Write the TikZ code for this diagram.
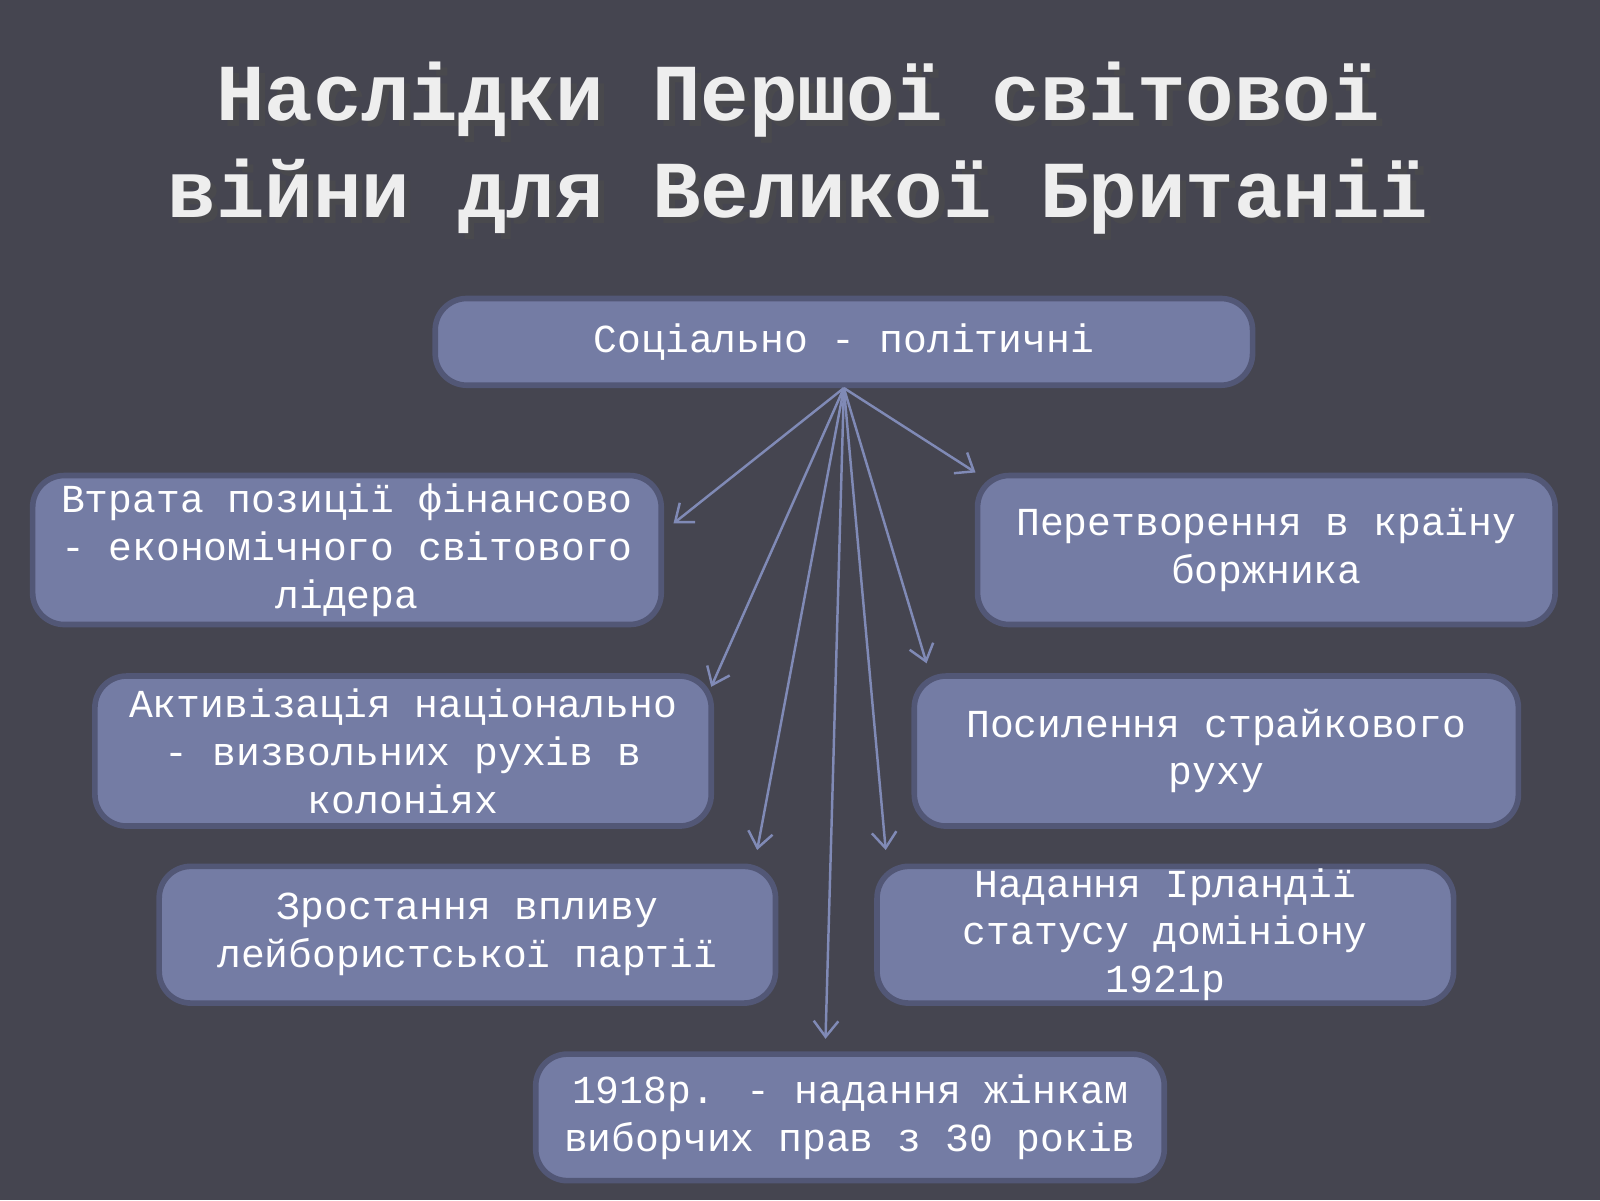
\documentclass[tikz,border=0pt]{standalone}
\usepackage{fontspec}
\setmainfont{Liberation Mono}
\usetikzlibrary{positioning,arrows.meta}
\definecolor{backG}{RGB}{69,69,80}
\definecolor{obj}{RGB}{116,124,164}
\definecolor{objLine}{RGB}{82,87,118}
\definecolor{arr}{RGB}{128,138,182}
\definecolor{titleC}{RGB}{238,238,238}

\begin{document}
\begin{tikzpicture}[
	x=0.010204cm, y=-0.010204cm,
	MyBox/.style={draw=objLine, line width=1.6pt, rounded corners=9pt, fill=obj,
		text=white, align=center, font=\fontsize{11.3}{13.6}\selectfont, inner sep=0pt},
	MyArrow/.style={draw=arr, line width=0.7pt, -{Straight Barb[length=4.5pt,width=7pt]}},
	]
	\fill[backG] (0,0) rectangle (1568,1176);
	\useasboundingbox (0,0) rectangle (1568,1176);
	% title
	\node[text=black!70, opacity=0.6, align=center, font=\fontsize{23}{27.5}\selectfont\bfseries]
		at (788,151) {Наслідки Першої світової\\війни для Великої Британії};
	\node[text=titleC, align=center, font=\fontsize{23}{27.5}\selectfont\bfseries] (title)
		at (782,145) {Наслідки Першої світової\\війни для Великої Британії};
	% boxes
	\node[MyBox, minimum width=801*0.010204cm, minimum height=85*0.010204cm] (top) at (827,335) {Соціально - політичні};
	\node[MyBox, minimum width=616*0.010204cm, minimum height=146*0.010204cm] (b1) at (340,539) {Втрата позиції фінансово\\- економічного світового\\лідера};
	\node[MyBox, minimum width=566*0.010204cm, minimum height=146*0.010204cm] (b2) at (1241,539) {Перетворення в країну\\боржника};
	\node[MyBox, minimum width=604*0.010204cm, minimum height=147*0.010204cm] (b3) at (395,736) {Активізація національно\\- визвольних рухів в\\колоніях};
	\node[MyBox, minimum width=592*0.010204cm, minimum height=147*0.010204cm] (b4) at (1192,736) {Посилення страйкового\\руху};
	\node[MyBox, minimum width=604*0.010204cm, minimum height=134*0.010204cm] (b5) at (458,916) {Зростання впливу\\лейбористської партії};
	\node[MyBox, minimum width=565*0.010204cm, minimum height=134*0.010204cm] (b6) at (1142,916) {Надання Ірландії\\статусу домініону\\1921р};
	\node[MyBox, minimum width=616*0.010204cm, minimum height=124*0.010204cm] (b7) at (833,1095) {1918р. - надання жінкам\\виборчих прав з 30 років};
	% arrow ends
	\coordinate (e1) at (660,513);
	\coordinate (e2) at (956,463);
	\coordinate (e3) at (697,673);
	\coordinate (e4) at (908,650);
	\coordinate (e5) at (742,833);
	\coordinate (e6) at (868,833);
	\coordinate (e7) at (809,1018);
	\foreach \e in {e1,e2,e3,e4,e5,e6,e7}
		\draw[MyArrow] (top.south) -- (\e);
\end{tikzpicture}
\end{document}
